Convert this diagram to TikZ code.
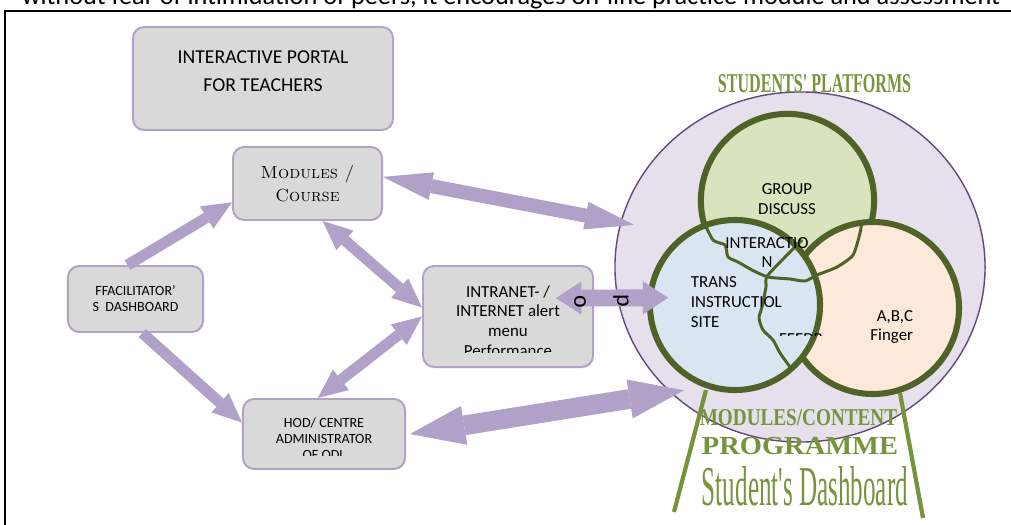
\documentclass[tikz,border=0pt]{standalone}
\usepackage{fontspec}
\setmainfont{Carlito}
\newfontfamily\titlefont{Liberation Serif}
\usepackage{xcolor}
\usepackage{tikz}
\usetikzlibrary{arrows.meta,shapes.geometric}
\definecolor{boxfill}{HTML}{D9D9D9}
\definecolor{boxline}{HTML}{B3A2C7}
\definecolor{arrowcol}{HTML}{B1A0C7}
\definecolor{platfill}{HTML}{E5E0EC}
\definecolor{platline}{HTML}{604A7B}
\definecolor{ringline}{HTML}{4F6228}
\definecolor{grpfill}{HTML}{D7E4BD}
\definecolor{trnfill}{HTML}{DBE5F1}
\definecolor{finfill}{HTML}{FDE9D9}
\definecolor{titlegreen}{HTML}{77933C}
\tikzstyle{box}=[rectangle,rounded corners=0.28cm,draw=boxline,fill=boxfill,line width=1.4pt,inner sep=0pt]
\tikzstyle{ring}=[circle,draw=ringline,line width=4.3pt,inner sep=0pt]
\tikzstyle{link}=[arrowcol,line width=7.8pt,-{Triangle[width=18.5pt,length=21pt,line width=0pt]}]
\tikzstyle{twolink}=[arrowcol,line width=7.8pt,{Triangle[width=18.5pt,length=21pt,line width=0pt]}-{Triangle[width=18.5pt,length=21pt,line width=0pt]}]
\tikzstyle{wiggle}=[ringline,line width=2.1pt,line join=round]
\tikzstyle{leg}=[titlegreen,line width=3pt]
\tikzstyle{ttl}=[titlegreen,inner sep=0pt,anchor=base]
\newcommand{\modfont}{\fontfamily{lmr}\selectfont\scshape}

\begin{document}
\begin{tikzpicture}[x=0.025cm,y=-0.025cm]
        \useasboundingbox (0,0) rectangle (1011,525);
        % line of the page above, cut by the frame
        \node at (511,5) [anchor=base,inner sep=0pt] (intro) {\resizebox{24.45cm}{!}{without fear of intimidation of peers, it encourages on-line practice module and assessment}};
        \draw [line width=1.4pt] (1011,11) -- (5,11) -- (5,525);

        % teachers' side
        \node at (263,78.5)  [box,minimum width=6.5cm,minimum height=2.575cm]   (portal) {};
        \node at (263,71)    [align=center,font=\fontsize{14}{20}\selectfont]   (portaltxt) {INTERACTIVE PORTAL\\FOR TEACHERS};
        \node at (307.5,183.5) [box,minimum width=3.725cm,minimum height=1.825cm,align=center,font=\fontsize{12.5}{16.5}\modfont] (mod) {Modules /\\Course};
        \node at (135.5,299) [box,minimum width=3.375cm,minimum height=1.65cm,align=center,font=\fontsize{10}{11.5}\selectfont] (fac) {FFACILITATOR’\\S\ \ DASHBOARD};
        \node at (508,316.5) [box,minimum width=4.25cm,minimum height=2.525cm] (int) {};
        \node at (324,434)   [box,minimum width=4.05cm,minimum height=1.75cm]  (hod) {};
        \begin{scope}
          \clip (423,266) rectangle (593,352);
          \node at (508,321) [align=center,font=\fontsize{12}{14}\selectfont] (inttxt) {INTRANET- /\\INTERNET alert\\menu\\Performance};
        \end{scope}
        \begin{scope}
          \clip (243,399) rectangle (405,455);
          \node at (324,438.5) [align=center,font=\fontsize{10}{11.5}\selectfont] (hodtxt) {HOD/ CENTRE\\ADMINISTRATOR\\OF ODL};
        \end{scope}

        % students' platforms
        \node at (800,267) [ellipse,draw=platline,fill=platfill,line width=1pt,inner sep=0pt,minimum width=9.25cm,minimum height=8.75cm] (plat) {};
        \node at (787.5,200.5) [ring,fill=grpfill,minimum size=4.33cm] (grp) {};
        \node at (873,308)     [ring,fill=finfill,minimum size=4.3cm]  (fin) {};
        \node at (735,305)     [ring,fill=trnfill,minimum size=4.25cm] (trn) {};
        \draw [wiggle] plot [smooth,tension=0.4] coordinates {(703,220) (713,240) (725,245) (728,257) (738,262) (752,270) (768,277) (790,279) (805,281) (817,275) (837,267) (853,255) (860,233) (862,223) (867,222)};
        \draw [wiggle] plot [smooth,tension=0.4] coordinates {(802,240) (768,275) (766,287) (762,307) (759,318) (763,330) (773,340) (780,353) (790,367)};

        \node at (787,199) [align=center,font=\fontsize{12}{14}\selectfont] (grptxt) {GROUP\\DISCUSS};
        \node at (767,252.5) [align=center,font=\fontsize{12}{13.5}\selectfont] (itxt) {INTERACTIO\\N};
        \node at (686,302) [anchor=west,align=left,font=\fontsize{12}{14}\selectfont] (trntxt) {TRANS\\INSTRUCTIOL\\SITE};
        \node at (918,327) [anchor=east,align=right,font=\fontsize{12}{13.5}\selectfont] (fintxt) {A,B,C\\Finger};
        \begin{scope}
          \clip (770,320) rectangle (830,335);
          \node at (801,339) [font=\fontsize{12}{14}\selectfont] (feedb) {FEEDB};
        \end{scope}

        \node at (814.5,93) [ttl] (plattl) {\resizebox{4.83cm}{0.45cm}{\titlefont\bfseries STUDENTS' PLATFORMS}};
        \draw [leg] (706,390) -- (674,512);
        \draw [leg] (900,393) -- (923,518);
        \node at (798.5,425) [ttl] (modttl) {\resizebox{4.93cm}{0.4cm}{\titlefont\bfseries MODULES/CONTENT}};
        \node at (800,454)   [ttl] (progttl) {\resizebox{4.9cm}{0.43cm}{\titlefont\bfseries PROGRAMME}};
        \node at (805,505)   [ttl] (dashttl) {\resizebox{5.15cm}{0.975cm}{\titlefont Student's Dashboard}};

        % arrows
        \draw [link] ([xshift=-0.2cm]fac.north) -- (mod.194);
        \draw [link] ([xshift=0.17cm]fac.south) -- (hod.172);
        \draw [twolink] (mod.292) -- (int.174);
        \draw [twolink] (hod.100) -- (int.west);
        \draw [twolink,line width=10pt,{Triangle[width=20pt,length=35pt,line width=0pt]}-{Triangle[width=20pt,length=35pt,line width=0pt]}] (mod.5) -- (plat.166) [shorten >=-0.35cm];
        \draw [twolink,line width=14pt,{Triangle[width=28pt,length=39pt,line width=0pt]}-{Triangle[width=28pt,length=39pt,line width=0pt]}] ([xshift=0.1cm]hod.east) -- (plat.224) [shorten >=-0.35cm];
        \draw [twolink,line width=12pt,{Triangle[width=23.5pt,length=18pt,line width=0pt]}-{Triangle[width=23.5pt,length=18pt,line width=0pt]}] ([xshift=-0.95cm,yshift=0.46cm]int.east) -- ([xshift=0.53cm,yshift=0.18cm]trn.west);
        \node at (580,302) [rotate=-90,font=\fontsize{17}{17}\selectfont] (optxt) {o};
        \node at (621,301) [rotate=-90,font=\fontsize{17}{17}\selectfont] (pptxt) {p};
      \end{tikzpicture}
\end{document}
